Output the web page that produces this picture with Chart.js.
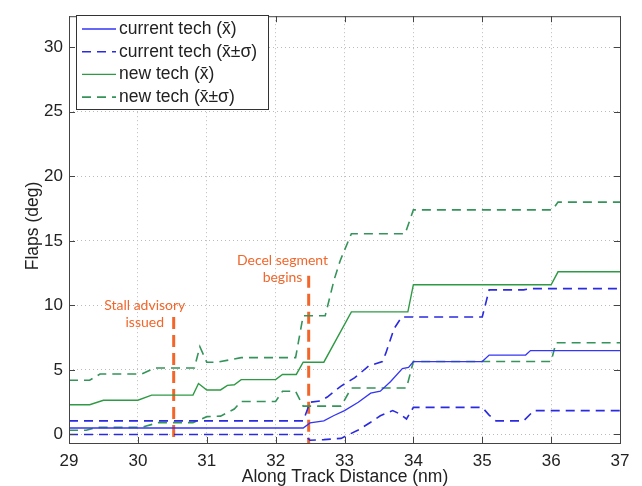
<!DOCTYPE html>
<html>
<head>
<meta charset="utf-8">
<script src="https://cdn.jsdelivr.net/npm/chart.js@4/dist/chart.umd.min.js"></script>
<style>
  html, body { margin: 0; padding: 0; background: #fff; }
  #grafico { display: block; }
</style>
</head>
<body>
<canvas id="grafico" width="642" height="486"></canvas>
<script>
// valores
const xTicks = [29, 30, 31, 32, 33, 34, 35, 36, 37];
const yTicks = [0, 5, 10, 15, 20, 25, 30];
const yTickLabels = ['0', '5', '10', '15', '20', '25', '30'];

const seriesLabels = ['current tech (x\u0304)', 'current tech (x\u0304\u00b1\u03c3)', 'new tech (x\u0304)', 'new tech (x\u0304\u00b1\u03c3)'];

const curMeanX = [29, 32.4, 32.5, 32.7, 32.84, 33.0, 33.2, 33.38, 33.52, 33.67, 33.84, 33.93, 34.0, 35.0, 35.1, 35.63, 35.7, 37];
const curMeanY = [0.5, 0.5, 0.9, 1.05, 1.45, 1.85, 2.5, 3.2, 3.35, 4.1, 5.1, 5.2, 5.65, 5.65, 6.15, 6.15, 6.5, 6.5];

const curUpX = [29, 32.4, 32.5, 32.65, 32.75, 32.95, 33.15, 33.35, 33.55, 33.6, 33.72, 33.83, 35.0, 35.1, 35.6, 35.7, 37];
const curUpY = [1.05, 1.05, 2.5, 2.6, 2.9, 3.75, 4.4, 5.3, 5.65, 6.3, 8.2, 9.1, 9.1, 11.2, 11.2, 11.3, 11.3];

const curLowX = [29, 32.4, 32.5, 32.7, 32.95, 33.2, 33.38, 33.52, 33.7, 33.8, 33.9, 34.0, 35.0, 35.1, 35.2, 35.6, 35.75, 37];
const curLowY = [0.0, 0.0, -0.45, -0.4, -0.3, 0.35, 0.95, 1.45, 1.85, 1.6, 1.2, 2.1, 2.1, 1.5, 1.05, 1.05, 1.85, 1.85];

const newMeanX = [29, 29.3, 29.5, 30.0, 30.2, 30.8, 30.88, 31.0, 31.2, 31.3, 31.4, 31.5, 32.0, 32.1, 32.3, 32.4, 32.7, 33.1, 33.92, 34.0, 36.0, 36.1, 37];
const newMeanY = [2.3, 2.3, 2.65, 2.65, 3.05, 3.05, 3.95, 3.45, 3.45, 3.8, 3.85, 4.25, 4.25, 4.65, 4.65, 5.6, 5.6, 9.5, 9.5, 11.6, 11.6, 12.6, 12.6];

const newUpX = [29, 29.3, 29.45, 30.05, 30.25, 30.82, 30.9, 31.0, 31.15, 31.5, 32.29, 32.4, 32.72, 32.85, 32.94, 33.1, 33.88, 34.0, 36.02, 36.1, 37];
const newUpY = [4.2, 4.2, 4.68, 4.68, 5.15, 5.15, 6.8, 5.6, 5.6, 5.95, 5.95, 9.2, 9.2, 12.0, 13.5, 15.55, 15.55, 17.4, 17.4, 18.0, 18.0];

const newLowX = [29, 29.25, 29.4, 30.05, 30.3, 30.8, 31.0, 31.2, 31.4, 31.5, 32.0, 32.1, 32.29, 32.4, 32.95, 33.1, 33.9, 34.0, 36.0, 36.07, 37];
const newLowY = [0.33, 0.33, 0.55, 0.55, 0.92, 0.92, 1.38, 1.42, 1.97, 2.55, 2.55, 3.35, 3.35, 2.2, 2.2, 3.6, 3.6, 5.65, 5.65, 7.1, 7.1];

// líneas naranjas de eventos
const stallX = [30.52, 30.52];
const stallY = [9.1, -0.66];
const decelX = [32.48, 32.48];
const decelY = [12.3, -0.66];
const notas = [
  { lines: ['Stall advisory', 'issued'], x: 30.1, y: [10.0, 8.65] },
  { lines: ['Decel segment', 'begins'], x: 32.1, y: [13.5, 12.15] }
];

const AZUL = '#3535f5';
const AZUL_D = '#2a2ae0';
const VERDE = '#2f9a44';
const VERDE_D = '#34945a';
const NARANJA = '#f2662a';

const pts = (xs, ys) => xs.map((x, i) => ({ x, y: ys[i] }));

function serie(label, xs, ys, color, dash, width) {
  return {
    label, data: pts(xs, ys), borderColor: color, borderWidth: width,
    borderDash: dash, pointRadius: 0, tension: 0, fill: false
  };
}

const datasets = [
  serie(seriesLabels[0], curMeanX, curMeanY, AZUL, [], 1.3),
  serie(seriesLabels[1], curUpX, curUpY, AZUL_D, [9, 6], 1.6),
  serie('', curLowX, curLowY, AZUL_D, [9, 6], 1.6),
  serie(seriesLabels[2], newMeanX, newMeanY, VERDE, [], 1.4),
  serie(seriesLabels[3], newUpX, newUpY, VERDE_D, [9, 6], 1.6),
  serie('', newLowX, newLowY, VERDE_D, [9, 6], 1.6),
  serie('', stallX, stallY, NARANJA, [12, 6], 3),
  serie('', decelX, decelY, NARANJA, [12, 6], 3)
];

const FUENTE = '"Liberation Sans", Arial, sans-serif';

// marco, ticks interiores, leyenda, notas y títulos de ejes
const extras = {
  id: 'extras',
  afterDraw(chart) {
    const { ctx, chartArea: a, scales } = chart;
    const sx = scales.x, sy = scales.y;
    ctx.save();

    // notas naranjas
    ctx.fillStyle = NARANJA;
    ctx.font = '14px Lato, "Open Sans", sans-serif';
    ctx.textAlign = 'center';
    ctx.textBaseline = 'middle';
    notas.forEach(n => {
      n.lines.forEach((t, i) => ctx.fillText(t, sx.getPixelForValue(n.x), sy.getPixelForValue(n.y[i])));
    });

    // marco
    ctx.strokeStyle = '#444';
    ctx.lineWidth = 1;
    ctx.strokeRect(a.left + 0.5, a.top + 0.5, a.right - a.left, a.bottom - a.top);
    ctx.beginPath();
    xTicks.forEach(v => {
      const px = Math.round(sx.getPixelForValue(v)) + 0.5;
      ctx.moveTo(px, a.bottom); ctx.lineTo(px, a.bottom - 6);
      ctx.moveTo(px, a.top); ctx.lineTo(px, a.top + 6);
    });
    yTicks.forEach(v => {
      const py = Math.round(sy.getPixelForValue(v)) + 0.5;
      ctx.moveTo(a.left, py); ctx.lineTo(a.left + 6, py);
      ctx.moveTo(a.right, py); ctx.lineTo(a.right - 6, py);
    });
    ctx.stroke();

    // leyenda
    const lx = 76, ly = 15, lw = 192, lh = 94;
    ctx.fillStyle = '#fff';
    ctx.fillRect(lx, ly, lw, lh);
    ctx.strokeStyle = '#333';
    ctx.strokeRect(lx + 0.5, ly + 0.5, lw, lh);
    const items = [datasets[0], datasets[1], datasets[3], datasets[4]];
    ctx.font = '17.5px ' + FUENTE;
    ctx.textAlign = 'left';
    items.forEach((d, i) => {
      const y = 29 + i * 22.7;
      ctx.strokeStyle = d.borderColor;
      ctx.lineWidth = d.borderWidth;
      ctx.setLineDash(d.borderDash);
      ctx.beginPath(); ctx.moveTo(82, y); ctx.lineTo(116, y); ctx.stroke();
      ctx.setLineDash([]);
      ctx.fillStyle = '#222';
      ctx.fillText(d.label, 119, y);
    });

    // títulos
    ctx.fillStyle = '#222';
    ctx.font = '17.5px ' + FUENTE;
    ctx.textAlign = 'center';
    ctx.fillText('Along Track Distance (nm)', 345, 477);
    ctx.translate(33, 226);
    ctx.rotate(-Math.PI / 2);
    ctx.fillText('Flaps (deg)', 0, 0);
    ctx.restore();
  }
};

new Chart(document.getElementById('grafico'), {
  type: 'line',
  data: { datasets },
  options: {
    responsive: false,
    animation: false,
    devicePixelRatio: 1,
    layout: { padding: { top: 8, right: 22, left: 0, bottom: 0 } },
    plugins: { legend: { display: false }, tooltip: { enabled: false } },
    scales: {
      x: {
        type: 'linear', min: 29, max: 37,
        afterFit: s => { s.height = 43; },
        afterBuildTicks: s => { s.ticks = xTicks.map(v => ({ value: v })); },
        ticks: { color: '#222', font: { size: 17, family: FUENTE }, padding: 8, maxRotation: 0 },
        grid: { color: '#bbb', drawTicks: false },
        border: { display: false, dash: [1, 3] }
      },
      y: {
        type: 'linear', min: -0.66, max: 32.4,
        afterFit: s => { s.width = 69; },
        afterBuildTicks: s => { s.ticks = yTicks.map(v => ({ value: v })); },
        ticks: {
          color: '#222', font: { size: 17, family: FUENTE }, padding: 6,
          callback: v => yTickLabels[yTicks.indexOf(v)]
        },
        grid: { color: '#bbb', drawTicks: false },
        border: { display: false, dash: [1, 3] }
      }
    }
  },
  plugins: [extras]
});
</script>
</body>
</html>
